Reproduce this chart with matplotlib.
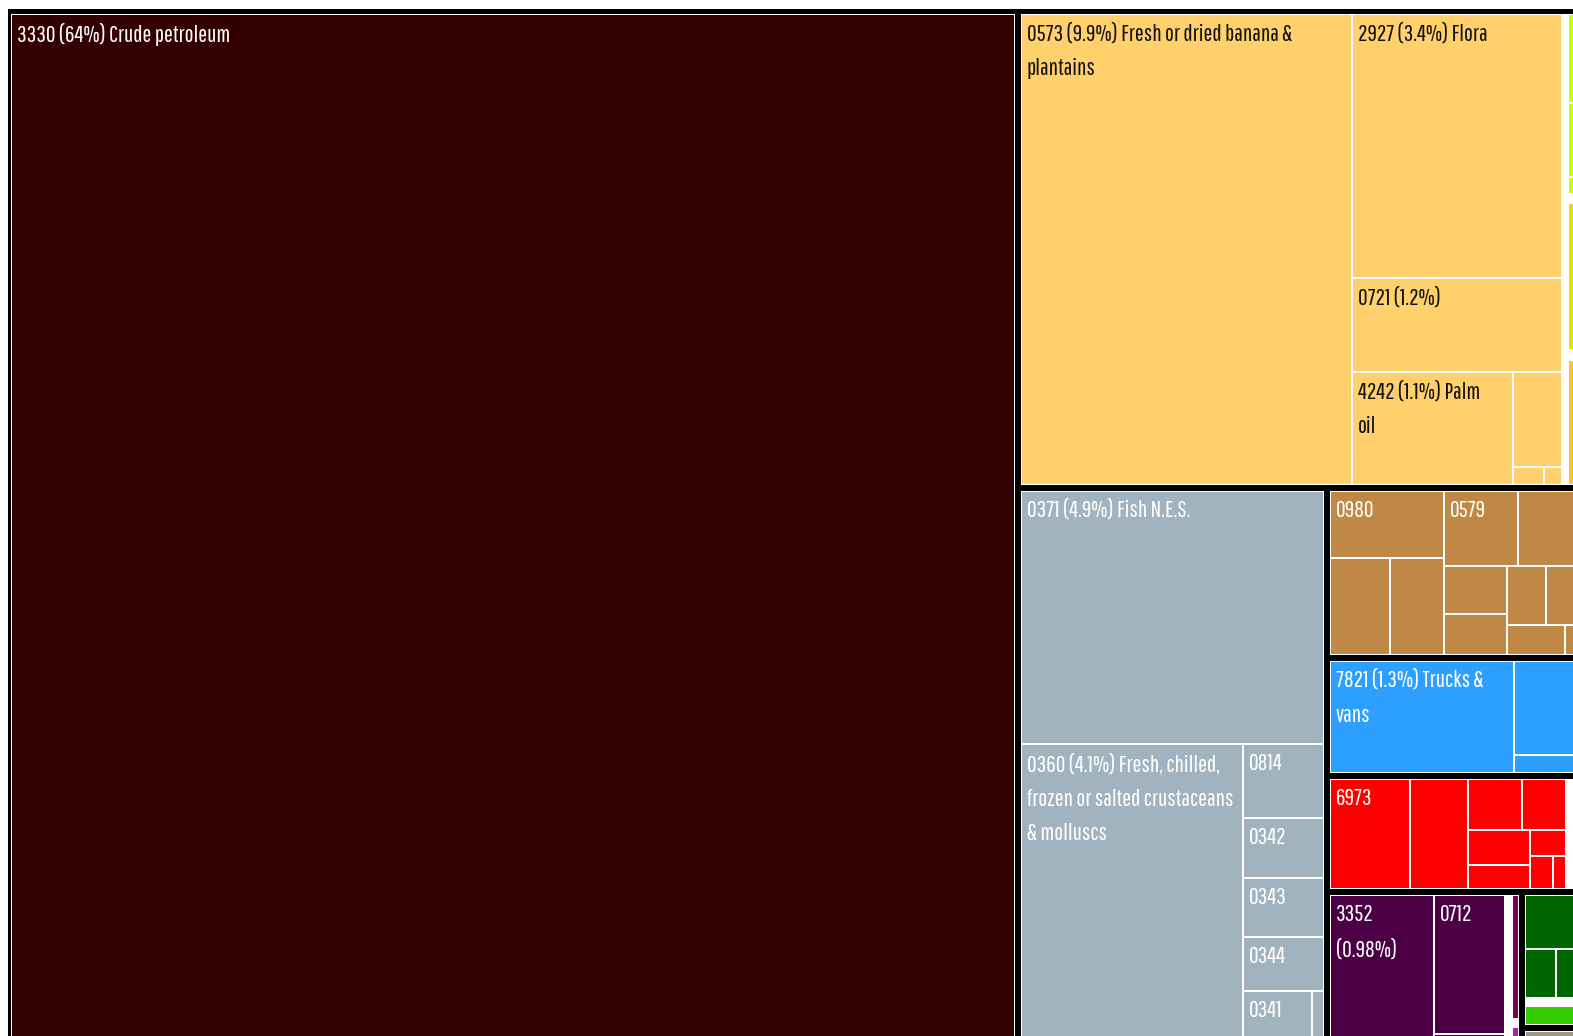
import matplotlib
matplotlib.use('Agg')
import matplotlib.pyplot as plt
from matplotlib.patches import Rectangle

plt.rcParams['font.family'] = ['Pathway Gothic One', 'DejaVu Sans']

# ---- data: export shares (%) by SITC product, grouped by colour section ----
crude_labels = ['3330 (64%) Crude petroleum']
crude_values = [64.0]

food_labels = ['0573 (9.9%) Fresh or dried banana &\nplantains', '2927 (3.4%) Flora',
               '0721 (1.2%)', '4242 (1.1%) Palm\noil', '', '', '',
               '', '', '', '', '', '', '', '']
food_values = [9.77, 3.478, 1.239, 1.136, 0.292, 0.034, 0.020,
               0.177, 0.067, 0.0557, 0.0128, 0.0068, 0.1106, 0.0075, 0.0937]

fish_labels = ['0371 (4.9%) Fish N.E.S.',
               '0360 (4.1%) Fresh, chilled,\nfrozen or salted crustaceans\n& molluscs',
               '0814', '0342', '0343', '0344', '0341', '']
fish_values = [4.853, 4.170, 0.382, 0.307, 0.307, 0.274, 0.225, 0.039]

brown_labels = ['0980', '', '', '0579', '', '', '', '', '', '', '']
brown_values = [0.5005, 0.3766, 0.3389, 0.3634, 0.3046, 0.1967, 0.166,
                0.1497, 0.1305, 0.1113, 0.0288]

blue_labels = ['7821 (1.3%) Trucks &\nvans', '', '']
blue_values = [1.359, 0.415, 0.077]

red_labels = ['6973', '', '', '', '', '', '', '', '', '']
red_values = [0.585, 0.424, 0.184, 0.150, 0.1436, 0.0985, 0.0612, 0.0507, 0.0286, 0.1024]

purple_labels = ['3352\n(0.98%)', '0712', '', '', '', '', '']
purple_values = [1.006, 0.6493, 0.0374, 0.0677, 0.0571, 0.0037, 0.0069]

green_labels = ['', '', '', '', '']
green_values = [0.213, 0.108, 0.0835, 0.0293, 0.0742]

misc_labels = ['']
misc_values = [0.064]

# ---- how each group's cells are nested (h = side by side, v = stacked) ----
groups = {
    'crude': dict(values=crude_values, labels=crude_labels, tree=0,
                  colors=['#320000'], text='white'),
    'food': dict(values=food_values, labels=food_labels,
                 tree=('h', [0, ('v', [1, 2, ('h', [3, ('v', [4, ('h', [5, 6])])])]), 7,
                             ('v', [8, 9, 10, 11, 12, 13, 14])]),
                 colors=['#FFD06C'] * 7 + ['white', '#CCFF00', '#CCFF00', '#CCFF00', 'white',
                                           '#E5E000', 'white', '#FFC125'],
                 text='#111111'),
    'fish': dict(values=fish_values, labels=fish_labels,
                 tree=('v', [0, ('h', [1, ('v', [2, 3, 4, 5, ('h', [6, 7])])])]),
                 colors=['#A1B3BE'] * 8, text='white'),
    'brown': dict(values=brown_values, labels=brown_labels,
                  tree=('h', [('v', [0, ('h', [1, 2])]),
                              ('v', [('h', [3, 4]),
                                     ('h', [('v', [5, 6]), ('v', [('h', [7, 8]), ('h', [9, 10])])])])]),
                  colors=['#BF8845'] * 11, text='white'),
    'blue': dict(values=blue_values, labels=blue_labels, tree=('h', [0, ('v', [1, 2])]),
                 colors=['#2C9FFF'] * 3, text='white'),
    'red': dict(values=red_values, labels=red_labels,
                tree=('h', [0, 1, ('v', [('h', [2, 3]),
                                         ('h', [('v', [4, 5]), ('v', [6, ('h', [7, 8])])])]), 9]),
                colors=['#FF0000'] * 9 + ['white'], text='white'),
    'purple': dict(values=purple_values, labels=purple_labels,
                   tree=('h', [0, ('v', [1, 2]), 3, ('v', [4, 5, 6])]),
                   colors=['#4B0045'] * 3 + ['white', '#77004F', 'white', '#A02CA0'], text='white'),
    'green': dict(values=green_values, labels=green_labels, tree=('v', [0, ('h', [1, 2]), 3, 4]),
                  colors=['#006600'] * 3 + ['white', '#33CC00'], text='white'),
    'misc': dict(values=misc_values, labels=misc_labels, tree=0,
                 colors=['#9C9A86'], text='white'),
}

top_tree = ('h', ['crude', ('v', ['food', ('h', ['fish', ('v', ['brown', 'blue', 'red',
                                                              ('h', ['purple', ('v', ['green', 'misc'])])])])])])


def total(node, values=None):
    if isinstance(node, str):
        return sum(groups[node]['values'])
    if isinstance(node, int):
        return values[node]
    return sum(total(k, values) for k in node[1])


def split(node, x, y, w, h, out, values=None):
    if not isinstance(node, tuple):
        out.append((node, x, y, w, h))
        return
    d, kids = node
    tot = sum(total(k, values) for k in kids)
    pos = x if d == 'h' else y
    for k in kids:
        f = total(k, values) / tot
        if d == 'h':
            split(k, pos, y, w * f, h, out, values)
            pos += w * f
        else:
            split(k, x, pos, w, h * f, out, values)
            pos += h * f


fig = plt.figure(figsize=(15.73, 10.36), dpi=100)
ax = fig.add_axes([0, 0, 1, 1])
ax.set_xlim(0, 1573)
ax.set_ylim(1036, 0)
ax.axis('off')

ax.add_patch(Rectangle((8, 9), 1600, 1100, color='black', lw=0))

PAD = 3.0
GAP = 1.0
group_rects = []
split(top_tree, 8, 11, 1583 - 8, 1045 - 11, group_rects)

for name, gx, gy, gw, gh in group_rects:
    g = groups[name]
    ix, iy, iw, ih = gx + PAD, gy + PAD, gw - 2 * PAD, gh - 2 * PAD
    ax.add_patch(Rectangle((ix, iy), iw, ih, color='white', lw=0))
    cells = []
    split(g['tree'], ix, iy, iw, ih, cells, g['values'])
    for i, cx, cy, cw, ch in cells:
        ax.add_patch(Rectangle((cx + GAP, cy + GAP), cw - 2 * GAP, ch - 2 * GAP,
                               color=g['colors'][i], lw=0))
        if g['labels'][i]:
            ax.text(cx + GAP + 5, cy + GAP + 8, g['labels'][i], color=g['text'],
                    fontsize=17, va='top', ha='left', linespacing=1.8)

fig.savefig('out.png', dpi=100, facecolor='white')
